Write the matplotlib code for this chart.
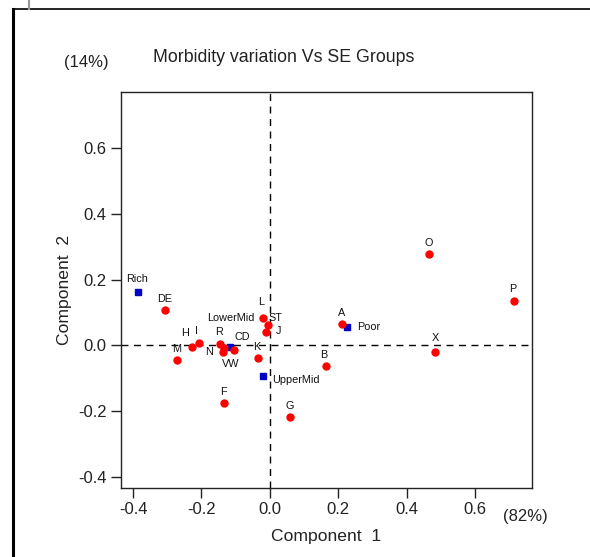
import matplotlib
matplotlib.use('Agg')
import matplotlib.pyplot as plt
from matplotlib.lines import Line2D

plt.rcParams['font.family'] = ['Liberation Sans', 'DejaVu Sans']

# morbidity items (red dots)
items = ['A', 'B', 'CD', 'DE', 'F', 'G', 'H', 'I', 'J', 'K', 'L', 'M', 'N',
         'O', 'P', 'R', 'ST', 'VW', 'X']
items_c1 = [0.211, 0.164, -0.106, -0.306, -0.134, 0.060, -0.227, -0.208, -0.012,
            -0.035, -0.019, -0.272, -0.138, 0.466, 0.714, -0.146, -0.004, -0.133, 0.484]
items_c2 = [0.066, -0.064, -0.014, 0.108, -0.176, -0.218, -0.006, 0.008, 0.040,
            -0.038, 0.084, -0.045, -0.021, 0.278, 0.135, 0.005, 0.062, -0.008, -0.021]

# SE groups (blue squares)
groups = ['Rich', 'Poor', 'LowerMid', 'UpperMid']
groups_c1 = [-0.386, 0.226, -0.115, -0.019]
groups_c2 = [0.162, 0.055, -0.004, -0.093]

# label placement (pixels from the point), ha
lab_off = {
    'Rich': (-1, 13, 'center'), 'DE': (-1, 11, 'center'), 'L': (-2, 16, 'center'),
    'ST': (7, 7, 'center'), 'J': (13, 1, 'center'), 'LowerMid': (0, 29, 'center'),
    'A': (0, 11, 'center'), 'Poor': (10, 0, 'left'), 'H': (-7, 14, 'center'),
    'I': (-2, 12, 'center'), 'M': (0, 11, 'center'), 'R': (-1, 12, 'center'),
    'N': (-14, 0, 'center'), 'VW': (6, -16, 'center'), 'CD': (9, 13, 'center'),
    'K': (-1, 11, 'center'), 'UpperMid': (9, -4, 'left'), 'F': (-1, 11, 'center'),
    'G': (-1, 11, 'center'), 'B': (-2, 11, 'center'), 'O': (0, 11, 'center'),
    'P': (-1, 12, 'center'), 'X': (0, 14, 'center'),
}

fig = plt.figure(figsize=(5.9, 5.57), dpi=100)
ax = fig.add_axes([120.7 / 590, 1 - 488 / 557, (532 - 120.7) / 590, (488 - 92.3) / 557])

ax.axhline(0, color='black', lw=1, ls=(0, (5, 4)), zorder=1)
ax.axvline(0, color='black', lw=1, ls=(0, (5, 4)), zorder=1)

ax.plot(items_c1, items_c2, 'o', color='#ff0000', ms=5, mec='#ff0000', zorder=3)
ax.plot(groups_c1, groups_c2, 's', color='#0000c8', ms=4.5, mec='#0000c8', zorder=2)

for names, xs, ys in [(items, items_c1, items_c2), (groups, groups_c1, groups_c2)]:
    for n, x, y in zip(names, xs, ys):
        dx, dy, ha = lab_off[n]
        ax.annotate(n, (x, y), xytext=(dx, dy), textcoords='offset pixels',
                    ha=ha, va='center', fontsize=7.8, color='#111111')

ax.set_xlim(-0.436, 0.767)
ax.set_ylim(-0.4345, 0.770)
ax.set_xticks([-0.4, -0.2, 0.0, 0.2, 0.4, 0.6])
ax.set_yticks([-0.4, -0.2, 0.0, 0.2, 0.4, 0.6])
ax.xaxis.set_major_formatter(plt.FormatStrFormatter('%.1f'))
ax.yaxis.set_major_formatter(plt.FormatStrFormatter('%.1f'))
ax.tick_params(direction='out', length=7, width=1, labelsize=12, colors='#222222', pad=3)
for s in ax.spines.values():
    s.set_linewidth(1)
    s.set_color('#222222')

fig.text(326 / 590, 1 - 537 / 557, 'Component  1', ha='center', va='center', fontsize=12.6, color='#222222')
fig.text(65 / 590, 1 - 290 / 557, 'Component  2', ha='center', va='center', rotation=90,
         fontsize=12.6, color='#222222')
fig.text(284 / 590, 1 - 58 / 557, 'Morbidity variation Vs SE Groups', ha='center', va='center',
         fontsize=12.8, color='#222222')
fig.text(86 / 590, 1 - 62 / 557, '(14%)', ha='center', va='center', fontsize=12, color='#222222')
fig.text(525 / 590, 1 - 517 / 557, '(82%)', ha='center', va='center', fontsize=12, color='#222222')

# outer frame pieces
fig.add_artist(Line2D([13 / 590, 13 / 590], [0, 1 - 9 / 557], color='black', lw=2.2))
fig.add_artist(Line2D([13 / 590, 1], [1 - 9 / 557, 1 - 9 / 557], color='black', lw=1.2))
fig.add_artist(Line2D([28.5 / 590, 28.5 / 590], [1 - 9 / 557, 1], color='#999999', lw=1.6))

fig.savefig('out.png', dpi=100)
